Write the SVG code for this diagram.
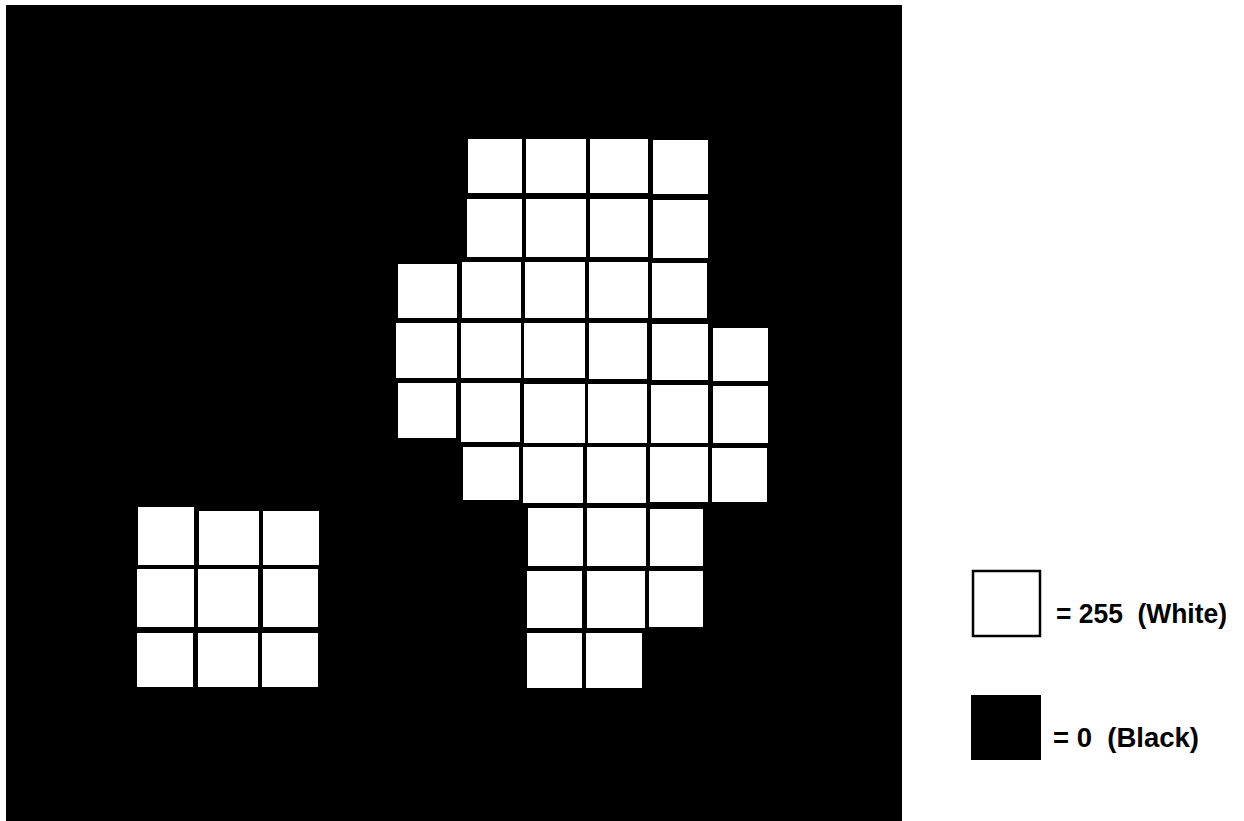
<svg xmlns="http://www.w3.org/2000/svg" width="1244" height="821" viewBox="0 0 1244 821">
<style>
.w{fill:#fff}
.t{font-family:"Liberation Sans",Arial,sans-serif;font-weight:bold;font-size:27px;fill:#000;white-space:pre}
</style>
<rect x="0" y="0" width="1244" height="821" fill="#fff"/>
<rect id="image" x="6" y="5" width="896" height="816" fill="#000"/>
<g id="large-region">
<rect class="w" x="468" y="139" width="54" height="54"/>
<rect class="w" x="526" y="139" width="60" height="54"/>
<rect class="w" x="590" y="139" width="58" height="54"/>
<rect class="w" x="653" y="140" width="55" height="54"/>
<rect class="w" x="467" y="199" width="55" height="58"/>
<rect class="w" x="526" y="199" width="60" height="58"/>
<rect class="w" x="590" y="199" width="58" height="58"/>
<rect class="w" x="653" y="200" width="55" height="58"/>
<rect class="w" x="398" y="264" width="59" height="54"/>
<rect class="w" x="462" y="262" width="59" height="56"/>
<rect class="w" x="525" y="262" width="60" height="56"/>
<rect class="w" x="589" y="262" width="59" height="56"/>
<rect class="w" x="652" y="263" width="55" height="55"/>
<rect class="w" x="396" y="323" width="61" height="55"/>
<rect class="w" x="461" y="323" width="60" height="55"/>
<rect class="w" x="524" y="323" width="61" height="55"/>
<rect class="w" x="589" y="323" width="58" height="56"/>
<rect class="w" x="652" y="324" width="56" height="56"/>
<rect class="w" x="713" y="328" width="55" height="53"/>
<rect class="w" x="398" y="383" width="58" height="55"/>
<rect class="w" x="461" y="383" width="59" height="59"/>
<rect class="w" x="524" y="384" width="61" height="59"/>
<rect class="w" x="588" y="384" width="59" height="59"/>
<rect class="w" x="651" y="385" width="57" height="58"/>
<rect class="w" x="713" y="386" width="55" height="57"/>
<rect class="w" x="463" y="447" width="56" height="53"/>
<rect class="w" x="523" y="447" width="60" height="56"/>
<rect class="w" x="587" y="447" width="59" height="56"/>
<rect class="w" x="650" y="447" width="58" height="55"/>
<rect class="w" x="712" y="448" width="55" height="54"/>
<rect class="w" x="528" y="508" width="55" height="58"/>
<rect class="w" x="587" y="508" width="59" height="58"/>
<rect class="w" x="650" y="509" width="53" height="57"/>
<rect class="w" x="527" y="571" width="55" height="57"/>
<rect class="w" x="587" y="571" width="58" height="57"/>
<rect class="w" x="649" y="571" width="54" height="56"/>
<rect class="w" x="527" y="633" width="55" height="55"/>
<rect class="w" x="586" y="633" width="56" height="55"/>
</g>
<g id="small-region">
<rect class="w" x="138" y="507" width="56" height="58"/>
<rect class="w" x="199" y="511" width="60" height="54"/>
<rect class="w" x="263" y="511" width="56" height="54"/>
<rect class="w" x="137" y="569" width="57" height="58"/>
<rect class="w" x="198" y="569" width="60" height="58"/>
<rect class="w" x="263" y="569" width="55" height="58"/>
<rect class="w" x="137" y="633" width="56" height="54"/>
<rect class="w" x="198" y="633" width="60" height="54"/>
<rect class="w" x="262" y="633" width="56" height="54"/>
</g>
<g id="legend-white">
<rect x="973" y="571" width="67" height="65" fill="#fff" stroke="#000" stroke-width="2.5"/>
<text class="t" x="1056" y="623" textLength="171" lengthAdjust="spacingAndGlyphs" xml:space="preserve">= 255  (White)</text>
</g>
<g id="legend-black">
<rect x="971" y="695" width="70" height="65" fill="#000"/>
<text class="t" x="1053" y="747" textLength="146" lengthAdjust="spacingAndGlyphs" xml:space="preserve">= 0  (Black)</text>
</g>
</svg>
